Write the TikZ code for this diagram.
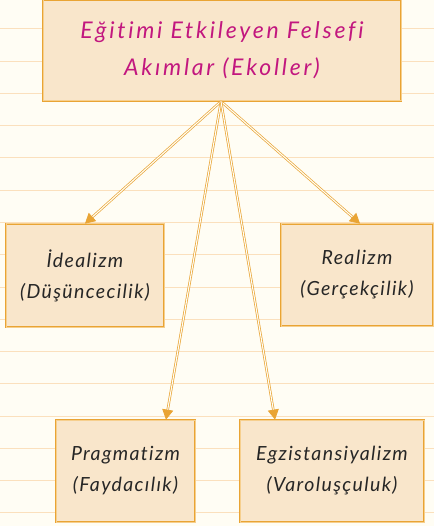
\documentclass[tikz,border=0pt]{standalone}
\usepackage{fontspec}
\setmainfont{Lato}
\newfontfamily\topfont[LetterSpace=12,Ligatures=NoCommon]{Lato}
\newfontfamily\boxfont[LetterSpace=7,Ligatures=NoCommon]{Lato}
\usetikzlibrary{arrows.meta,calc}
\definecolor{bg}{HTML}{FFFDF4}
\definecolor{rule}{HTML}{FBE0BD}
\definecolor{boxfill}{HTML}{F9E6CB}
\definecolor{ac}{HTML}{E9A434}
\definecolor{acl}{HTML}{F6CF8E}
\definecolor{mag}{HTML}{C2177F}
\definecolor{ink}{HTML}{262626}
\tikzset{
  box/.style={draw=ac, line width=0.8pt, double=acl, double distance=1pt, fill=boxfill,
    rectangle, inner sep=0pt, align=center, text=ink,
    font=\boxfont\fontsize{19.5}{31}\selectfont\itshape},
  topbox/.style={box, text=mag, font=\topfont\fontsize{23}{37}\selectfont\itshape},
  conn/.style={draw=ac, line width=0.7pt, double=bg, double distance=1.1pt,
    -{Triangle[width=11pt,length=10pt,fill=ac]}},
}
\begin{document}
\begin{tikzpicture}[x=1pt,y=-1pt]
\useasboundingbox (0,0) rectangle (434,526);
\fill[bg] (0,0) rectangle (434,526);
\foreach \k in {0,...,15} {
  \draw[rule, line width=1pt] (0,{29+32.25*\k}) -- (434,{29+32.25*\k});
}
\node[topbox, minimum width=358pt, minimum height=101pt] (top) at (222,50.5)
  {\rule{0pt}{3pt}Eğitimi Etkileyen Felsefi\\Akımlar (Ekoller)};
\node[box, minimum width=158pt, minimum height=103pt] (idea) at (85,275.5)
  {İdealizm\\(Düşüncecilik)};
\node[box, minimum width=152pt, minimum height=102pt] (real) at (357,275)
  {Realizm\\(Gerçekçilik)};
\node[box, minimum width=139pt, minimum height=102pt] (prag) at (125.5,471)
  {Pragmatizm\\(Faydacılık)};
\node[box, minimum width=184pt, minimum height=102pt] (egz) at (332,471)
  {Egzistansiyalizm\\(Varoluşçuluk)};
\coordinate (src) at ($(top.south)+(-1pt,0)$);
\draw[conn] (src) -- (idea.north);
\draw[conn] (src) -- ([xshift=3pt]real.north);
\draw[conn] (src) -- ([xshift=40.5pt]prag.north);
\draw[conn] (src) -- ([xshift=-57pt]egz.north);
\end{tikzpicture}
\end{document}
